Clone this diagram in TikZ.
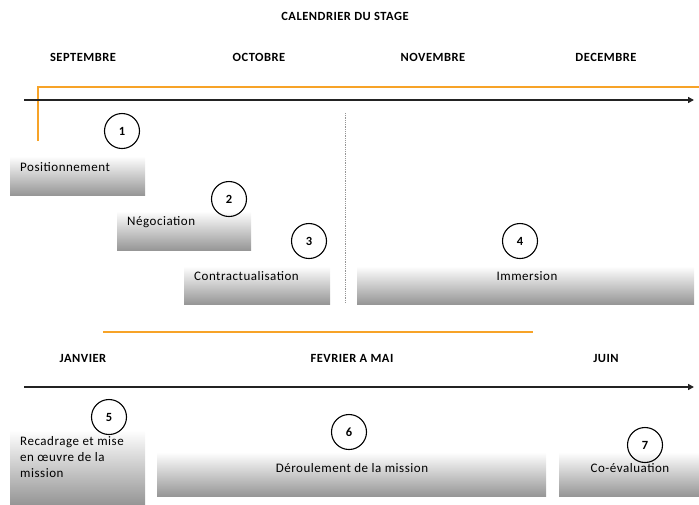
\documentclass[tikz,border=0pt]{standalone}
\usepackage{fontspec}
\setmainfont{Carlito}
\newfontfamily\spacedfont[LetterSpace=4]{Carlito}
\usepackage{tikz}
\usetikzlibrary{arrows.meta}
\definecolor{lorange}{RGB}{247, 163, 40}
\definecolor{lgray}{RGB}{150, 150, 150}
\definecolor{daxis}{RGB}{35, 35, 35}

\begin{document}
\begin{tikzpicture}[x = 1pt, y = -1pt,
		box/.style = {rectangle, anchor = north west, inner sep = 0pt, top color = white, bottom color = lgray},
		num/.style = {circle, draw, line width = 1.1pt, minimum size = 35pt, inner sep = 0pt, font = \spacedfont\bfseries\fontsize{12.5}{14}\selectfont},
		month/.style = {font = \spacedfont\bfseries\fontsize{12.5}{14}\selectfont},
		txt/.style = {font = \spacedfont\fontsize{13}{16}\selectfont, inner sep = 0pt},
		axis/.style = {draw = daxis, line width = 1.6pt, -{Triangle[length = 6pt, width = 6pt]}},
		frise/.style = {draw = lorange, line width = 1.1pt}]
			\useasboundingbox (0,0) rectangle (699,504);
			% titre et mois
			\node (titre) at (345,16) [month] {CALENDRIER DU STAGE};
			\node (sep) at (83,57) [month] {SEPTEMBRE};
			\node (oct) at (259,57) [month] {OCTOBRE};
			\node (nov) at (433,57) [month] {NOVEMBRE};
			\node (dec) at (606,57) [month] {DECEMBRE};
			\node (jan) at (83,358) [month] {JANVIER};
			\node (fev) at (352,358) [month] {FEVRIER A MAI};
			\node (juin) at (606,358) [month] {JUIN};
			% axes
			\coordinate (o1) at (38,141);
			\coordinate (o2) at (38,87);
			\coordinate (o3) at (699,87);
			\coordinate (o4) at (103,332);
			\coordinate (o5) at (533,332);
			\coordinate (t1) at (24,100);
			\coordinate (t2) at (694,100);
			\coordinate (t3) at (24,387);
			\coordinate (t4) at (694,387);
			\coordinate (d1) at (345,113);
			\coordinate (d2) at (345,303);
			\draw[frise] (o1) -- (o2) -- (o3);
			\draw[frise] (o4) -- (o5);
			\draw[axis] (t1) -- (t2);
			\draw[axis] (t3) -- (t4);
			\draw[lgray, densely dotted, line width = 0.8pt] (d1) -- (d2);
			% etapes
			\node (b1) at (10,156) [box, minimum width = 135pt, minimum height = 39pt] {};
			\node (b2) at (117,211) [box, minimum width = 134pt, minimum height = 39pt] {};
			\node (b3) at (184,266) [box, minimum width = 146pt, minimum height = 38pt] {};
			\node (b4) at (357,266) [box, minimum width = 337pt, minimum height = 38pt] {};
			\node (b5) at (10,430) [box, minimum width = 135pt, minimum height = 74pt] {};
			\node (b6) at (157,452) [box, minimum width = 389pt, minimum height = 44pt] {};
			\node (b7) at (559,452) [box, minimum width = 140pt, minimum height = 44pt] {};
			\node (l1) at (20,167) [txt, anchor = west] {Positionnement};
			\node (l2) at (127,222) [txt, anchor = west] {Négociation};
			\node (l3) at (194,276) [txt, anchor = west] {Contractualisation};
			\node (l4) at (527,276) [txt] {Immersion};
			\node (l5) at (20,477) [txt, anchor = base west, align = left] {Recadrage et mise\\en œuvre de la\\mission};
			\node (l6) at (352,468) [txt] {Déroulement de la mission};
			\node (l7) at (630,468) [txt] {Co-évaluation};
			\node (n1) at (122,131) [num] {1};
			\node (n2) at (229,199) [num] {2};
			\node (n3) at (309,241) [num] {3};
			\node (n4) at (520,241) [num] {4};
			\node (n5) at (109,417) [num] {5};
			\node (n6) at (349,432) [num] {6};
			\node (n7) at (645,445) [num] {7};
			\end{tikzpicture}
\end{document}
